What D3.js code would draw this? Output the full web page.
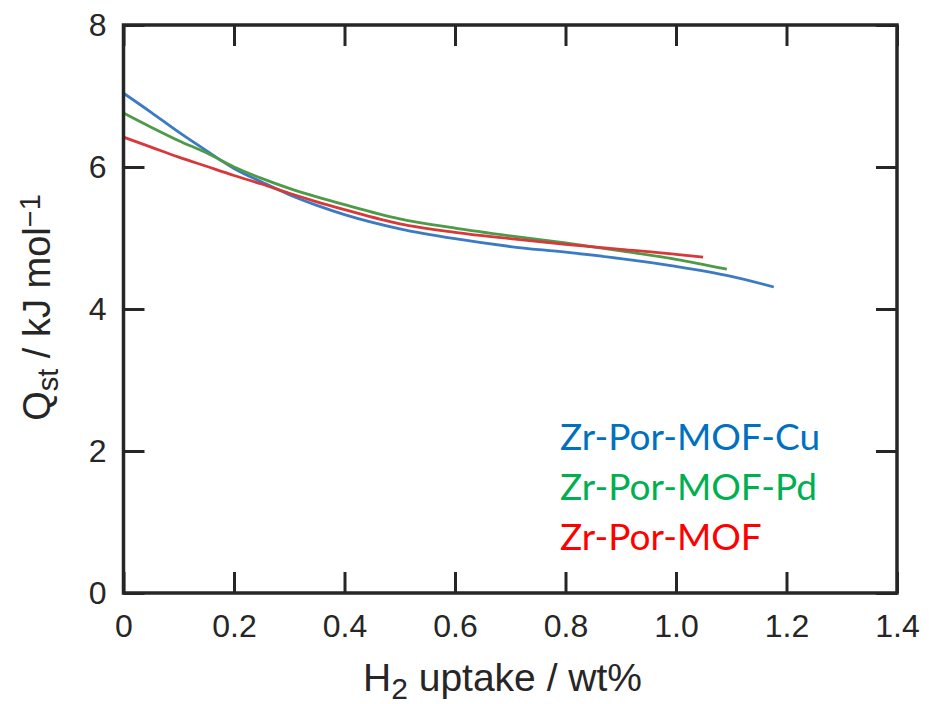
<!DOCTYPE html>
<html>
<head>
<meta charset="utf-8">
<script src="https://cdn.jsdelivr.net/npm/d3@7"></script>
<style>
  html, body { margin: 0; padding: 0; background: #fff; }
  svg { display: block; }
</style>
</head>
<body>
<svg id="chart" width="929" height="704"></svg>
<script>
// ---- data ----
const seriesNames = ["Zr-Por-MOF-Cu", "Zr-Por-MOF-Pd", "Zr-Por-MOF"];
const cuX = [0, 0.05, 0.1, 0.15, 0.2, 0.25, 0.3, 0.35, 0.4, 0.5, 0.6, 0.7, 0.8, 0.9, 1.0, 1.1, 1.177];
const cuY = [7.04, 6.77, 6.49, 6.23, 5.98, 5.79, 5.61, 5.46, 5.33, 5.13, 4.99, 4.88, 4.80, 4.71, 4.60, 4.46, 4.31];
const pdX = [0, 0.05, 0.1, 0.15, 0.2, 0.25, 0.3, 0.35, 0.4, 0.5, 0.6, 0.7, 0.8, 0.9, 1.0, 1.092];
const pdY = [6.76, 6.56, 6.37, 6.20, 6.00, 5.84, 5.70, 5.58, 5.47, 5.27, 5.14, 5.03, 4.93, 4.82, 4.70, 4.56];
const mofX = [0, 0.05, 0.1, 0.15, 0.2, 0.25, 0.3, 0.35, 0.4, 0.5, 0.6, 0.7, 0.8, 0.9, 1.0, 1.049];
const mofY = [6.42, 6.28, 6.14, 6.01, 5.88, 5.76, 5.63, 5.51, 5.40, 5.20, 5.08, 4.99, 4.91, 4.84, 4.77, 4.73];
const xTicks = [0, 0.2, 0.4, 0.6, 0.8, 1.0, 1.2, 1.4];
const xTickLabels = ["0", "0.2", "0.4", "0.6", "0.8", "1.0", "1.2", "1.4"];
const yTicks = [0, 2, 4, 6, 8];
const yTickLabels = ["0", "2", "4", "6", "8"];

const lineColors = ["#3a7bc4", "#4f9a48", "#d9383a"];
const legendColors = ["#0070c0", "#00b050", "#ff0000"];

// ---- layout ----
const svg = d3.select("#chart");
const L = 123.5, R = 897, T = 25, B = 593;
const x = d3.scaleLinear().domain([0, 1.4]).range([L, R]);
const y = d3.scaleLinear().domain([0, 8]).range([B, T]);
const axisColor = "#262626";
const tickFont = "'Liberation Sans', Arial, sans-serif";

// curves
const series = [
  { xs: cuX, ys: cuY },
  { xs: pdX, ys: pdY },
  { xs: mofX, ys: mofY }
];
const line = d3.line().x(d => x(d[0])).y(d => y(d[1])).curve(d3.curveMonotoneX);
series.forEach((s, i) => {
  const pts = s.xs.map((v, k) => [v, s.ys[k]]);
  svg.append("path").datum(pts)
    .attr("d", line)
    .attr("fill", "none")
    .attr("stroke", lineColors[i])
    .attr("stroke-width", 2.8)
    .attr("stroke-linecap", "butt");
});

// axes (ticks inward)
const tickLen = 21;
const bottomAxis = d3.axisBottom(x).tickValues(xTicks).tickSize(-tickLen).tickFormat((d, i) => xTickLabels[i]).tickPadding(21);
const topAxis = d3.axisTop(x).tickValues(xTicks).tickSize(-tickLen).tickFormat("");
const leftAxis = d3.axisLeft(y).tickValues(yTicks).tickSize(-tickLen).tickFormat((d, i) => yTickLabels[i]).tickPadding(17);
const rightAxis = d3.axisRight(y).tickValues(yTicks).tickSize(-tickLen).tickFormat("");

function styleAxis(g) {
  g.select(".domain").remove();
  g.selectAll(".tick line").attr("stroke", axisColor).attr("stroke-width", 3);
  g.selectAll(".tick text").attr("fill", axisColor)
    .style("font-family", tickFont).style("font-size", "32px");
}
svg.append("g").attr("transform", `translate(0,${B})`).call(bottomAxis).call(styleAxis);
svg.append("g").attr("transform", `translate(0,${T})`).call(topAxis).call(styleAxis);
svg.append("g").attr("transform", `translate(${L},0)`).call(leftAxis).call(styleAxis);
svg.append("g").attr("transform", `translate(${R},0)`).call(rightAxis).call(styleAxis);

// frame
svg.append("rect")
  .attr("x", L).attr("y", T).attr("width", R - L).attr("height", B - T)
  .attr("fill", "none").attr("stroke", axisColor).attr("stroke-width", 3.5);

// x label
const xl = svg.append("text")
  .attr("x", 363).attr("y", 691)
  .attr("text-anchor", "start")
  .attr("fill", axisColor)
  .style("font-family", tickFont).style("font-size", "39px");
xl.append("tspan").text("H");
xl.append("tspan").attr("dy", 8).style("font-size", "30px").text("2");
xl.append("tspan").attr("dy", -8).text(" uptake / wt%");

// y label
const yl = svg.append("text")
  .attr("transform", `translate(50,${(188 + 427) / 2}) rotate(-90)`)
  .attr("text-anchor", "middle")
  .attr("fill", axisColor)
  .style("font-family", tickFont).style("font-size", "38px");
yl.append("tspan").text("Q");
yl.append("tspan").attr("dy", 8).style("font-size", "29px").text("st");
yl.append("tspan").attr("dy", -8).text(" / kJ mol");
yl.append("tspan").attr("dy", -10).style("font-size", "29px").text("−1");

// legend
const legendY = [450, 500, 550];
seriesNames.forEach((n, i) => {
  svg.append("text")
    .attr("x", 560).attr("y", legendY[i])
    .attr("fill", legendColors[i])
    .style("font-family", "Lato, 'Open Sans', sans-serif")
    .style("font-size", "37px")
    .text(n);
});
</script>
</body>
</html>
